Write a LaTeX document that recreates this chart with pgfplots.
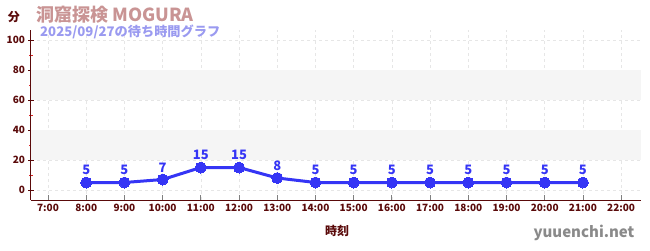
\documentclass[border=0pt]{standalone}
\usepackage{fontspec}
\setmainfont{Noto Sans CJK JP}
\usepackage{pgfplots}
\pgfplotsset{compat=1.18}
\definecolor{axisred}{HTML}{5A0A0A}
\definecolor{minorred}{HTML}{DD2222}
\definecolor{lineblue}{HTML}{3535F5}
\definecolor{titlerose}{HTML}{C99494}
\definecolor{subblue}{HTML}{9A9AF0}
\definecolor{bandgray}{HTML}{F5F5F5}
\definecolor{gridgray}{HTML}{E6E6E6}
\definecolor{sitegray}{HTML}{8A8A8A}
\begin{document}
\begin{tikzpicture}[x=1pt,y=1pt]
\path[use as bounding box] (0,0) rectangle (650,250);
\begin{axis}[
  at={(31pt,50pt)}, anchor=south west,
  scale only axis, width=610pt, height=170pt,
  xmin=6.555, xmax=22.52, ymin=-6.667, ymax=106.667,
  axis x line=bottom, axis y line=left,
  axis line style={axisred, line width=1pt, -},
  xtick={7,...,22},
  xticklabels={7:00,8:00,9:00,10:00,11:00,12:00,13:00,14:00,15:00,16:00,17:00,18:00,19:00,20:00,21:00,22:00},
  ytick={0,20,...,100},
  minor ytick={10,30,...,90},
  x tick style={gray, line width=0.8pt},
  y tick style={axisred, line width=0.8pt},
  minor y tick style={minorred, line width=0.8pt},
  xtick pos=bottom, ytick pos=left,
  xtick align=inside, ytick align=center,
  major tick length=5pt, minor tick length=3pt,
  ticklabel style={font=\fontsize{10}{12}\selectfont\bfseries, text=axisred},
  /pgf/number format/assume math mode=true,
  xticklabel style={yshift=-1pt},
  grid=major,
  major grid style={gridgray, dashed, line width=0.6pt},
  clip=false,
  axis on top=false,
]
  % alternating background bands
  \fill[bandgray] (axis cs:6.555,20) rectangle (axis cs:22.52,40);
  \fill[bandgray] (axis cs:6.555,60) rectangle (axis cs:22.52,80);
  \addplot[lineblue, line width=3pt, mark=*, mark size=5.5pt,
    mark options={fill=lineblue, draw=lineblue, line width=0pt},
    nodes near coords,
    every node near coord/.append style={font=\fontsize{13}{15}\selectfont\bfseries, text=lineblue, anchor=south, yshift=4pt}]
  coordinates {
    (8,5) (9,5) (10,7) (11,15) (12,15) (13,8) (14,5)
    (15,5) (16,5) (17,5) (18,5) (19,5) (20,5) (21,5)
  };
\end{axis}
\node[anchor=center, font=\fontsize{12}{14}\selectfont\bfseries, text=axisred] at (14,233) {分};
\node[anchor=west, font=\fontsize{18}{20}\selectfont\bfseries, text=titlerose, inner sep=0pt] at (36,235) {洞窟探検 MOGURA};
\node[anchor=west, font=\fontsize{13.2}{15}\selectfont\bfseries, text=subblue, inner sep=0pt] at (40,218.5) {2025/09/27の待ち時間グラフ};
\node[anchor=center, font=\fontsize{12}{14}\selectfont\bfseries, text=axisred] at (337,19) {時刻};
\node[anchor=center, font=\fontsize{15}{17}\selectfont\bfseries, text=sitegray] at (584,17) {yuuenchi.net};
\end{tikzpicture}
\end{document}
